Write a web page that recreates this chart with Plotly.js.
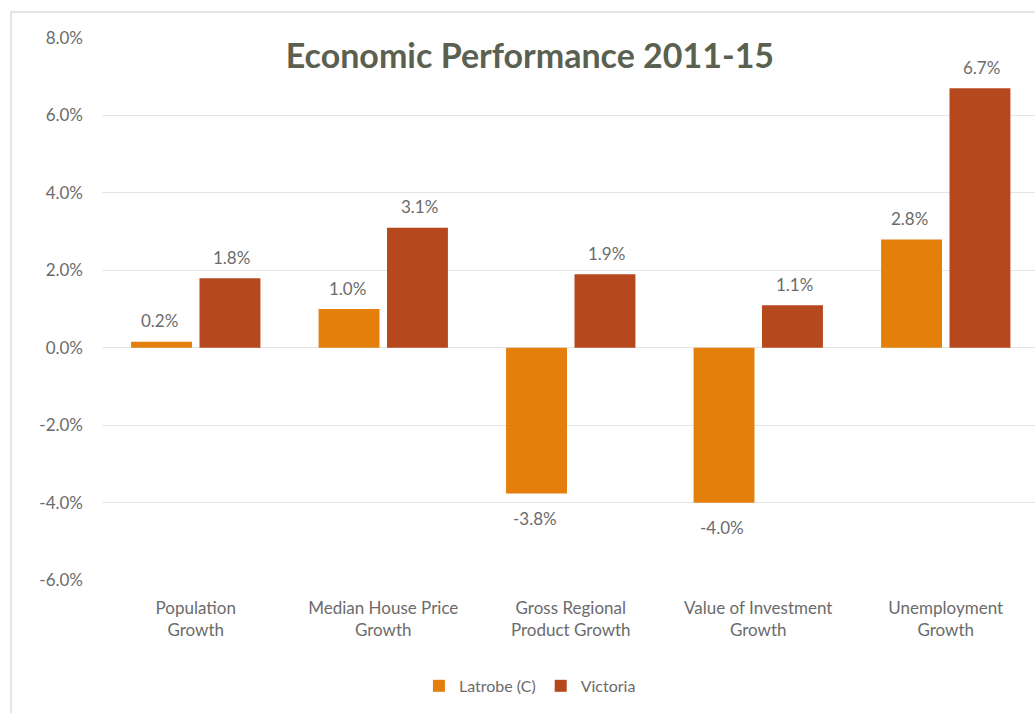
<!DOCTYPE html>
<html>
<head>
<meta charset="utf-8">
<script src="https://cdn.plot.ly/plotly-3.0.1.min.js"></script>
<style>html,body{margin:0;padding:0;background:#fff;}#chart{width:1035px;height:713px;}</style>
</head>
<body>
<div id="chart"></div>
<script>
const categories = ["Population<br>Growth", "Median House Price<br>Growth", "Gross Regional<br>Product Growth", "Value of Investment<br>Growth", "Unemployment<br>Growth"];
const latrobe = [0.0016, 0.010, -0.0376, -0.040, 0.028];
const victoria = [0.018, 0.031, 0.019, 0.011, 0.067];
const seriesNames = ["Latrobe (C)", "Victoria"];
const yTicks = [-0.06, -0.04, -0.02, 0, 0.02, 0.04, 0.06, 0.08];

const fmt = v => (v * 100).toFixed(1) + "%";
const labelFont = {family: "Lato, 'Open Sans', sans-serif", size: 17, color: "#6b6b6b"};

// pixel offset of each series' bar from its category centre (style, not data)
const barShift = [-36, 36];
const annotations = [];
[latrobe, victoria].forEach((series, si) => {
  series.forEach((v, i) => {
    annotations.push({x: categories[i], y: v, xref: "x", yref: "y", text: fmt(v), showarrow: false,
      xshift: barShift[si], yshift: v >= 0 ? 21 : -25, yanchor: "middle", font: labelFont});
  });
});

const traces = [
  {type: "bar", name: seriesNames[0], x: categories, y: latrobe,
   marker: {color: "#E47F0C"}, hoverinfo: "skip"},
  {type: "bar", name: seriesNames[1], x: categories, y: victoria,
   marker: {color: "#B5481C"}, hoverinfo: "skip"}
];

const layout = {
  width: 1035, height: 713,
  margin: {l: 102, r: 0, t: 38, b: 132},
  paper_bgcolor: "#ffffff", plot_bgcolor: "#ffffff",
  font: labelFont,
  title: {text: "<b>Economic Performance 2011-15</b>", x: 0.512, xanchor: "center", xref: "container",
          y: 0.922, yanchor: "middle", yref: "container",
          font: {family: "Lato, 'Open Sans', sans-serif", size: 34, color: "#5b6150"}},
  barmode: "group", bargap: 0.27, bargroupgap: 0.11,
  xaxis: {type: "category", range: [-0.5, 4.476], showgrid: false, zeroline: false, showline: false,
          ticks: "", ticklen: 0, ticklabelstandoff: 15,
          tickfont: {family: "Lato, 'Open Sans', sans-serif", size: 17, color: "#6b6b6b"}},
  yaxis: {range: [-0.0602, 0.08], tickvals: yTicks, ticktext: yTicks.map(fmt), showgrid: true, gridcolor: "#e4e4e4",
          gridwidth: 1, zeroline: true, zerolinecolor: "#e4e4e4", zerolinewidth: 1, showline: false,
          ticks: "", ticklen: 0, ticklabelstandoff: 18, tickfont: labelFont},
  showlegend: true,
  legend: {orientation: "h", xref: "container", yref: "container", x: 0.512, xanchor: "center",
           y: 0.038, yanchor: "middle", font: {family: "Lato, 'Open Sans', sans-serif", size: 16, color: "#6b6b6b"},
           itemwidth: 30, traceorder: "normal"},
  annotations: annotations,
  shapes: [{type: "rect", xref: "paper", yref: "paper", x0: -0.0975, x1: 1.2, y0: -0.5, y1: 1.048,
            line: {color: "#dcdcdc", width: 1.5}, fillcolor: "rgba(0,0,0,0)", layer: "below"}]
};

Plotly.newPlot("chart", traces, layout, {displayModeBar: false, staticPlot: true});
</script>
</body>
</html>
